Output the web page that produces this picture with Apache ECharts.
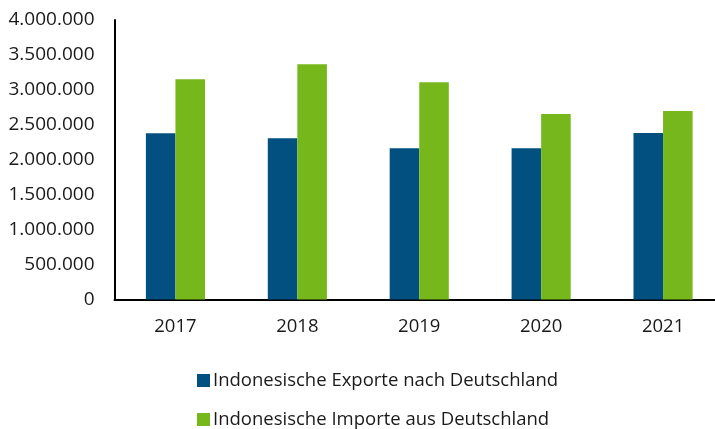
<!DOCTYPE html>
<html><head><meta charset="utf-8">
<script src="https://cdn.jsdelivr.net/npm/echarts@6/dist/echarts.min.js"></script>
<style>html,body{margin:0;padding:0;background:#fff}#c{width:715px;height:429px}</style>
</head><body><div id="c"></div>
<script>
const categories = ['2017','2018','2019','2020','2021'];
const exporte = [2380000, 2307000, 2164000, 2164000, 2383000];
const importe = [3151000, 3366000, 3108000, 2655000, 2698000];
const seriesNames = ['Indonesische Exporte nach Deutschland','Indonesische Importe aus Deutschland'];
const yTicks = {min: 0, max: 4000000, interval: 500000};

const font = 'Open Sans';
const legendText = {fontFamily: font, fontSize: 18.5, color: '#1a1a1a', padding: [0,0,0,-2]};
const chart = echarts.init(document.getElementById('c'), null, {renderer:'canvas'});
chart.setOption({
  animation: false,
  textStyle: {fontFamily: font},
  grid: {left: 114.5, top: 20, right: -9, bottom: 129.5, containLabel: false, outerBoundsMode: 'none'},
  legend: [
    {left: 192, top: 366, itemWidth: 13, itemHeight: 13, icon: 'rect', textStyle: legendText, data: [seriesNames[0]]},
    {left: 192, top: 405, itemWidth: 13, itemHeight: 13, icon: 'rect', textStyle: legendText, data: [seriesNames[1]]}
  ],
  xAxis: {
    type: 'category', data: categories,
    axisLine: {lineStyle: {color: '#000', width: 2}},
    axisTick: {show: false},
    axisLabel: {fontFamily: font, fontSize: 18.5, color: '#1a1a1a', margin: 18}
  },
  yAxis: {
    type: 'value', min: yTicks.min, max: yTicks.max, interval: yTicks.interval,
    axisLine: {show: true, lineStyle: {color: '#000', width: 2}},
    axisTick: {show: false},
    splitLine: {show: false},
    axisLabel: {fontFamily: font, fontSize: 19, color: '#1a1a1a', margin: 20,
      formatter: v => v.toString().replace(/\B(?=(\d{3})+(?!\d))/g, '.')}
  },
  series: [
    {name: seriesNames[0], type: 'bar', data: exporte, barGap: '0%', barCategoryGap: '51.5%',
     itemStyle: {color: '#01507F'}},
    {name: seriesNames[1], type: 'bar', data: importe, barGap: '0%', barCategoryGap: '51.5%',
     itemStyle: {color: '#76B81B'}}
  ]
});
</script></body></html>
